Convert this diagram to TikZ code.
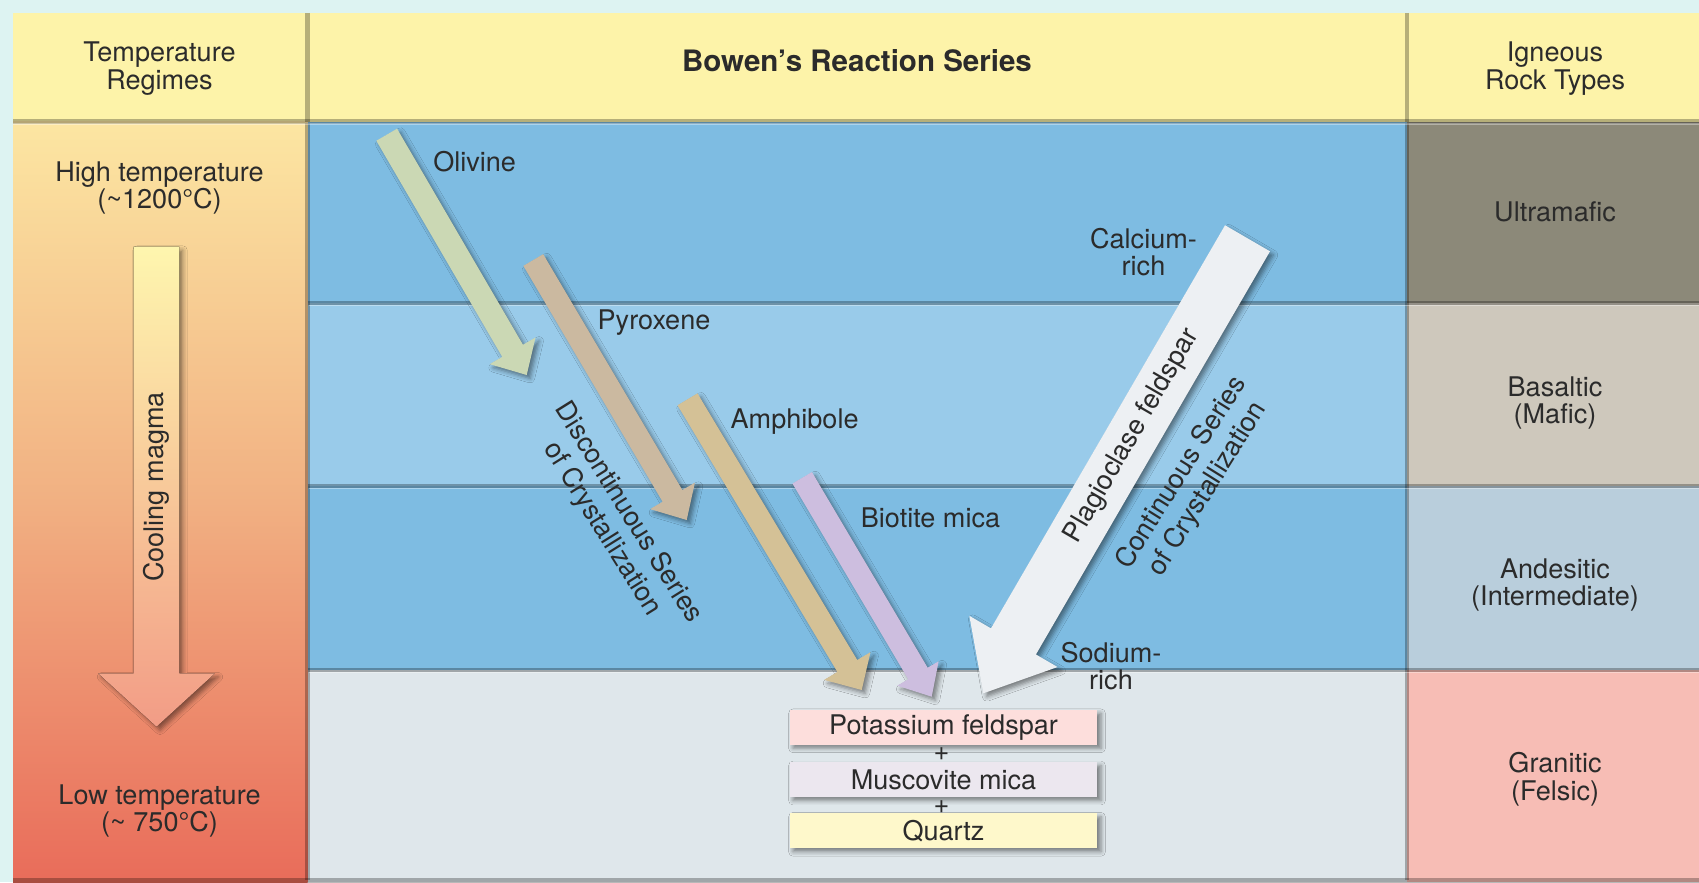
\documentclass[tikz,border=0pt]{standalone}
\usepackage{fontspec}
\setmainfont{TeX Gyre Heros}
\usetikzlibrary{calc,shadows.blur}

\definecolor{bgcyan}{HTML}{DDF3F2}
\definecolor{hdr}{HTML}{FDF3A9}
\definecolor{blueA}{HTML}{7EBCE2}
\definecolor{blueB}{HTML}{99CBEA}
\definecolor{grayrow}{HTML}{DFE7EB}
\definecolor{ultrac}{HTML}{8C8979}
\definecolor{basalc}{HTML}{CEC8BC}
\definecolor{andesc}{HTML}{B9CEDC}
\definecolor{granitc}{HTML}{F7BDB5}
\definecolor{ink}{HTML}{2B2B2B}
\definecolor{olivc}{HTML}{CBD8B4}
\definecolor{pyroc}{HTML}{CBB9A0}
\definecolor{amphc}{HTML}{D4C196}
\definecolor{biotc}{HTML}{CDBEDF}
\definecolor{plagc}{HTML}{EDF0F3}
\definecolor{kfc}{HTML}{FDDEDC}
\definecolor{muscc}{HTML}{ECE7EF}
\definecolor{qtzc}{HTML}{FEF8CB}
\definecolor{tempT}{HTML}{FCE6A2}
\definecolor{tempM}{HTML}{F1B082}
\definecolor{tempB}{HTML}{E96C5A}
\definecolor{coolT}{HTML}{FEF6AE}
\definecolor{coolB}{HTML}{F29C86}

% #1 tail, #2 tip, #3 shaft half, #4 head half, #5 head length (px), #6 style
\newcommand{\fatarrow}[6]{%
  \coordinate (#1-b) at ($(#2)!#5*0.02cm!(#1)$);
  \fill[#6] ($(#1)!#3*0.02cm!90:(#2)$) -- ($(#1-b)!#3*0.02cm!90:(#2)$)
    -- ($(#1-b)!#4*0.02cm!90:(#2)$) -- (#2)
    -- ($(#1-b)!#4*0.02cm!-90:(#2)$) -- ($(#1-b)!#3*0.02cm!-90:(#2)$)
    -- ($(#1)!#3*0.02cm!-90:(#2)$) -- cycle;
}

\begin{document}
\begin{tikzpicture}[x=0.02cm,y=-0.02cm,
  txt/.style={text=ink, font=\fontsize{15.4}{15.8}\selectfont, align=center, inner sep=0pt},
  ttl/.style={text=ink, font=\fontsize{16.8}{17}\selectfont\bfseries, inner sep=0pt},
  shad/.style={blur shadow={shadow xshift=2pt, shadow yshift=-2pt, shadow blur radius=2.5pt, shadow opacity=45}},
  sep/.style={black, opacity=0.28, line width=2.3pt},
  hil/.style={white, opacity=0.35, line width=0.8pt},
  mbox/.style={txt, minimum width=6.16cm, minimum height=0.7cm, shad}]

\useasboundingbox (0,0) rectangle (1699,882);
\fill[bgcyan] (0,0) rectangle (1699,882);

% header cells
\fill[hdr] (13,13) rectangle (1699,121.5);
% left body gradient
\shade[top color=tempT, bottom color=tempB, middle color=tempM] (13,121.5) rectangle (307.5,882);
% middle rows
\fill[blueA] (307.5,121.5) rectangle (1406.5,303);
\fill[blueB] (307.5,303) rectangle (1406.5,486);
\fill[blueA] (307.5,486) rectangle (1406.5,670);
\fill[grayrow] (307.5,670) rectangle (1406.5,882);
% right column
\fill[ultrac] (1406.5,121.5) rectangle (1699,303);
\fill[basalc] (1406.5,303) rectangle (1699,486);
\fill[andesc] (1406.5,486) rectangle (1699,670);
\fill[granitc] (1406.5,670) rectangle (1699,882);

% separators
\draw[sep] (13,121.5) -- (1699,121.5);
\draw[sep] (307.5,303) -- (1699,303);
\draw[sep] (307.5,486) -- (1699,486);
\draw[sep] (307.5,670) -- (1699,670);
\draw[sep] (13,880.5) -- (1699,880.5);
\draw[sep] (307.5,13) -- (307.5,121.5);
\draw[sep] (307.5,123) -- (307.5,880);
\draw[sep] (1406.5,13) -- (1406.5,121.5);
\draw[sep] (1406.5,123) -- (1406.5,880);
\draw[hil] (13,124) -- (1699,124);
\draw[hil] (309,305.5) -- (1699,305.5);
\draw[hil] (309,488.5) -- (1699,488.5);
\draw[hil] (309,672.5) -- (1699,672.5);

% header texts
\node[txt] (thdr) at (159.5,68.5) {Temperature\\Regimes};
\node[ttl] (title) at (857,61) {Bowen's Reaction Series};
\node[txt] (rhdr) at (1555,68.5) {Igneous\\Rock Types};

% left column
\node[txt] (hiT) at (159.5,188) {High temperature\\(\textasciitilde1200°C)};
\node[txt] (loT) at (159.5,811) {Low temperature\\(\textasciitilde\ 750°C)};
\coordinate (coolA) at (156.5,246.7);
\coordinate (coolB) at (156.5,726.7);
\fatarrow{coolA}{coolB}{22.8}{58.3}{53.3}{top color=coolT, bottom color=coolB, shad}
\node[txt, rotate=90] (coolL) at (156.5,487) {Cooling magma};

% right column texts
\node[txt] (ultra) at (1555,212) {Ultramafic};
\node[txt] (basal) at (1555,403) {Basaltic\\(Mafic)};
\node[txt] (andes) at (1555,585) {Andesitic\\(Intermediate)};
\node[txt] (granit) at (1555,779) {Granitic\\(Felsic)};

% mineral arrows
\coordinate (olA) at (386.7,134.7);  \coordinate (olB) at (526.7,375);
\coordinate (pyA) at (533.3,260);    \coordinate (pyB) at (686.7,520);
\coordinate (amA) at (687.5,399.3);  \coordinate (amB) at (861.7,690);
\coordinate (biA) at (802.2,477.8);  \coordinate (biB) at (931.7,696.7);
\coordinate (plA) at (1247.5,238.3); \coordinate (plB) at (983.3,693.3);
\fatarrow{olA}{olB}{12}{26.5}{28}{olivc, shad}
\fatarrow{pyA}{pyB}{11.5}{26}{28}{pyroc, shad}
\fatarrow{amA}{amB}{11.6}{27}{28}{amphc, shad}
\fatarrow{biA}{biB}{11.3}{24}{27}{biotc, shad}
\fatarrow{plA}{plB}{26}{51}{60}{plagc, shad}

% labels
\node[txt] (olL) at (474.6,161.4) {Olivine};
\node[txt] (pyL) at (654,323) {Pyroxene};
\node[txt] (amL) at (794.6,422) {Amphibole};
\node[txt] (biL) at (930.5,518.3) {Biotite mica};
\node[txt] (caL) at (1143.5,252) {Calcium-\\rich};
\node[txt] (naL) at (1111,666) {Sodium-\\rich};
\node[txt, rotate=59.9] (plL) at (1132,436) {Plagioclase feldspar};
\node[txt, rotate=58, font=\fontsize{15.4}{17.5}\selectfont] (conL) at (1195,481) {Continuous Series\\of Crystallization};
\node[txt, rotate=-58, font=\fontsize{15.4}{17.5}\selectfont] (disL) at (615,521) {Discontinuous Series\\of Crystallization};

% products
\node[mbox, fill=kfc] (kf) at (943.5,727.3) {Potassium feldspar};
\node[txt] (p1) at (941.5,754) {+};
\node[mbox, fill=muscc] (mm) at (943.5,779.5) {Muscovite mica};
\node[txt] (p2) at (941.5,806.7) {+};
\node[mbox, fill=qtzc] (qz) at (943.5,830.8) {Quartz};
\end{tikzpicture}
\end{document}
